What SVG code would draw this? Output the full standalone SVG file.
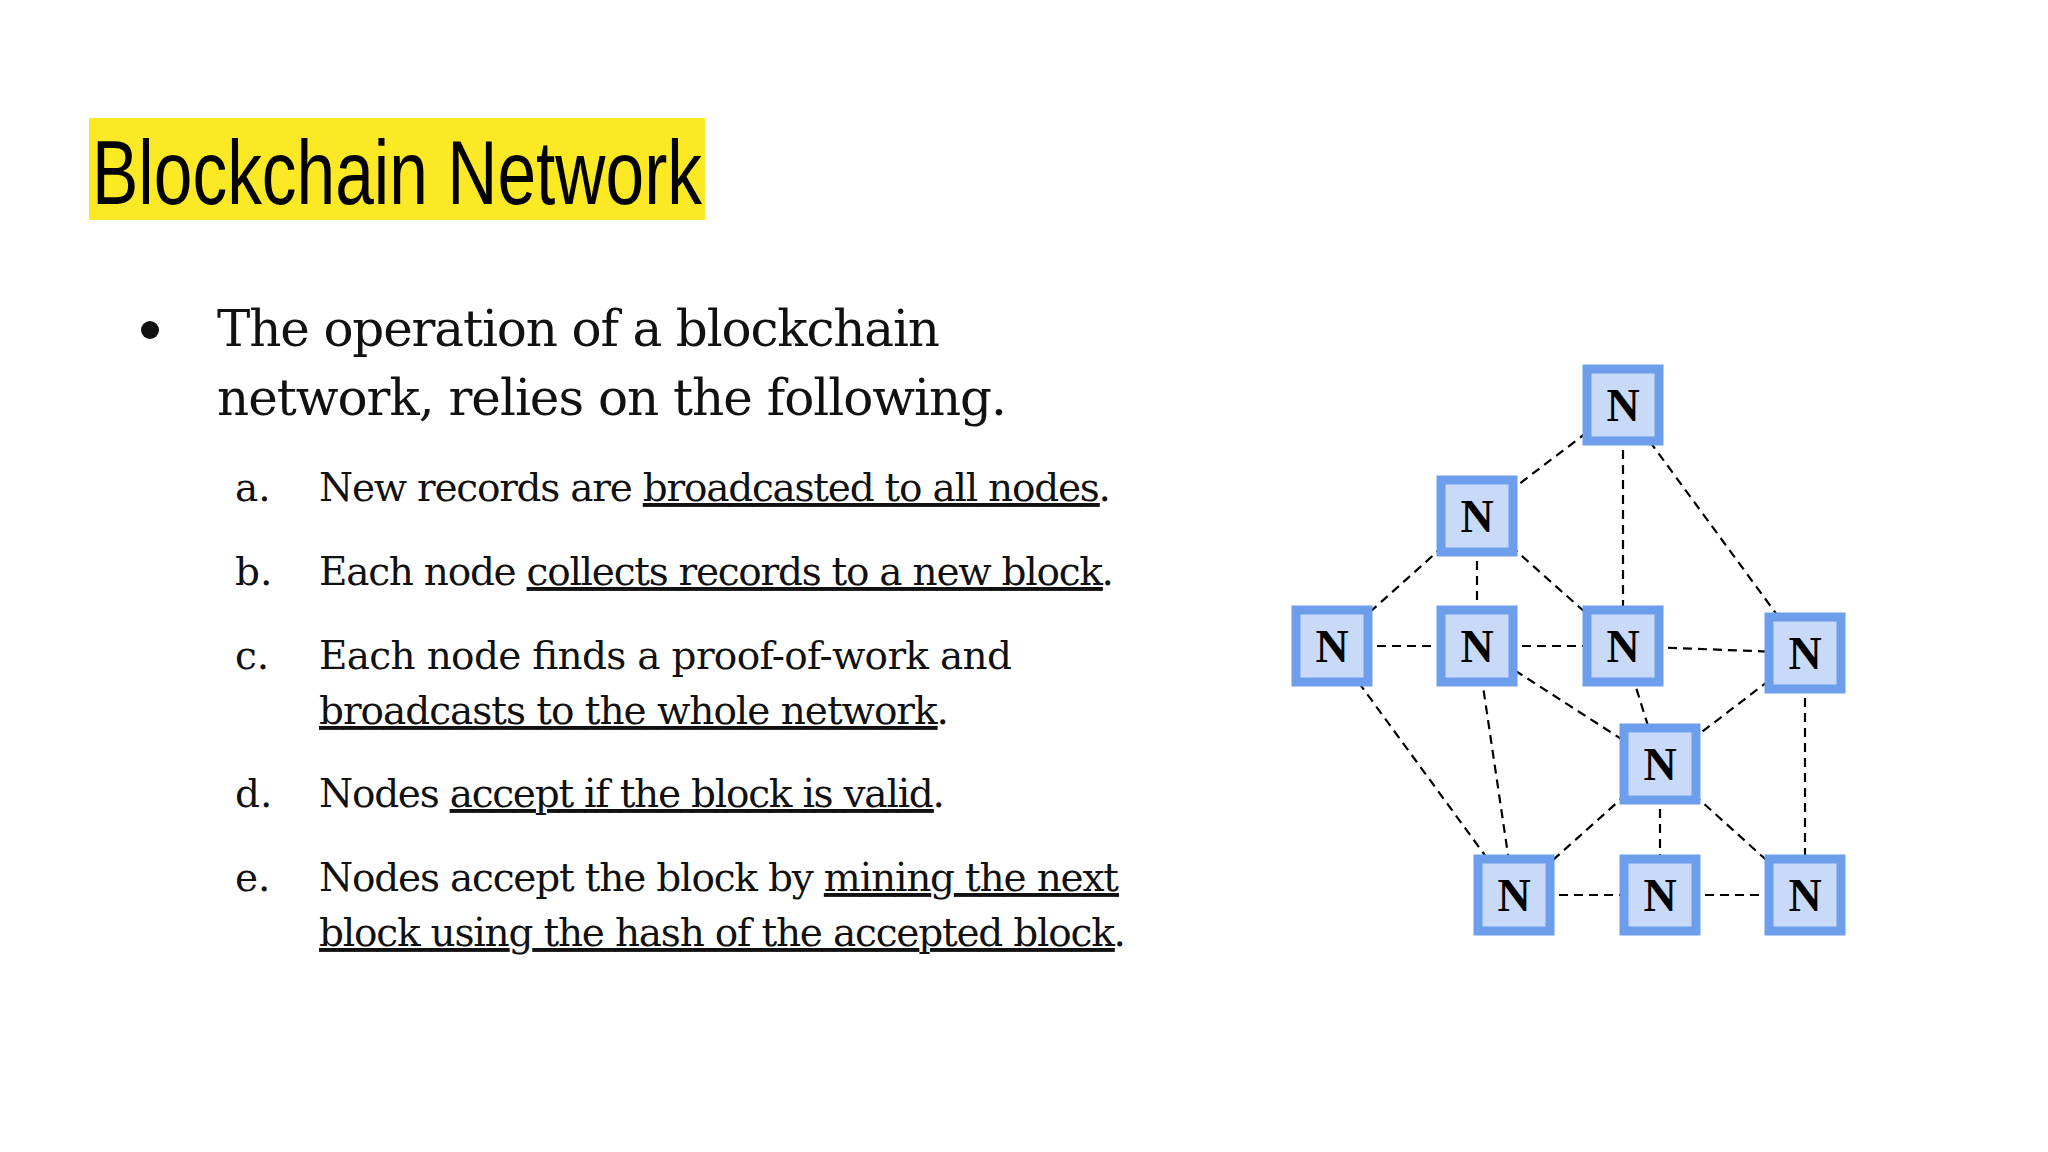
<svg xmlns="http://www.w3.org/2000/svg" width="2048" height="1152" viewBox="0 0 2048 1152">
<style>
.n rect{fill:#c9daf8;stroke:#6d9eeb;stroke-width:9}
.n text{font-family:"Liberation Serif","DejaVu Serif",serif;font-weight:bold;font-size:46px;text-anchor:middle;fill:#000}
#edges line{stroke:#000;stroke-width:2.2;stroke-dasharray:9 6}
.b{font-family:"DejaVu Serif","Liberation Serif",serif;fill:#111}
.u{text-decoration:underline}
</style>
<rect width="2048" height="1152" fill="#fff"/>
<g id="title"><rect x="89" y="118" width="616" height="102" fill="#fbe925"/>
<text x="92" y="204" font-family="Liberation Sans, sans-serif" font-size="90" font-stretch="condensed" textLength="610" lengthAdjust="spacingAndGlyphs" fill="#000">Blockchain Network</text></g>
<g id="body" class="b">
<circle cx="150" cy="330" r="9" fill="#111"/>
<text x="217" y="346" font-size="50" textLength="723">The operation of a blockchain</text>
<text x="217" y="415" font-size="50" textLength="790">network, relies on the following.</text>
<g font-size="39">
<text x="235" y="501">a.</text><text x="319" y="501" textLength="792">New records are <tspan class="u">broadcasted to all nodes</tspan>.</text>
<text x="235" y="585">b.</text><text x="319" y="585" textLength="795">Each node <tspan class="u">collects records to a new block</tspan>.</text>
<text x="235" y="669">c.</text><text x="319" y="669" textLength="693">Each node finds a proof-of-work and</text>
<text x="319" y="724" textLength="630"><tspan class="u">broadcasts to the whole network</tspan>.</text>
<text x="235" y="807">d.</text><text x="319" y="807" textLength="626">Nodes <tspan class="u">accept if the block is valid</tspan>.</text>
<text x="235" y="891">e.</text><text x="319" y="891" textLength="800">Nodes accept the block by <tspan class="u">mining the next</tspan></text>
<text x="319" y="946" textLength="807"><tspan class="u">block using the hash of the accepted block</tspan>.</text>
</g></g>
<g id="edges">
<line x1="1623" y1="405" x2="1477" y2="516"/>
<line x1="1623" y1="405" x2="1623" y2="646"/>
<line x1="1623" y1="405" x2="1805" y2="653"/>
<line x1="1477" y1="516" x2="1332" y2="646"/>
<line x1="1477" y1="516" x2="1477" y2="646"/>
<line x1="1477" y1="516" x2="1623" y2="646"/>
<line x1="1332" y1="646" x2="1477" y2="646"/>
<line x1="1477" y1="646" x2="1623" y2="646"/>
<line x1="1623" y1="646" x2="1805" y2="653"/>
<line x1="1623" y1="646" x2="1660" y2="764"/>
<line x1="1805" y1="653" x2="1660" y2="764"/>
<line x1="1477" y1="646" x2="1660" y2="764"/>
<line x1="1477" y1="646" x2="1514" y2="895"/>
<line x1="1332" y1="646" x2="1514" y2="895"/>
<line x1="1660" y1="764" x2="1514" y2="895"/>
<line x1="1660" y1="764" x2="1660" y2="895"/>
<line x1="1660" y1="764" x2="1805" y2="895"/>
<line x1="1805" y1="653" x2="1805" y2="895"/>
<line x1="1514" y1="895" x2="1660" y2="895"/>
<line x1="1660" y1="895" x2="1805" y2="895"/>
</g>
<g id="n1" class="n"><rect x="1587" y="369" width="72" height="72"/><text x="1623" y="421">N</text></g>
<g id="n2" class="n"><rect x="1441" y="480" width="72" height="72"/><text x="1477" y="532">N</text></g>
<g id="n3" class="n"><rect x="1296" y="610" width="72" height="72"/><text x="1332" y="662">N</text></g>
<g id="n4" class="n"><rect x="1441" y="610" width="72" height="72"/><text x="1477" y="662">N</text></g>
<g id="n5" class="n"><rect x="1587" y="610" width="72" height="72"/><text x="1623" y="662">N</text></g>
<g id="n6" class="n"><rect x="1769" y="617" width="72" height="72"/><text x="1805" y="669">N</text></g>
<g id="n7" class="n"><rect x="1624" y="728" width="72" height="72"/><text x="1660" y="780">N</text></g>
<g id="n8" class="n"><rect x="1478" y="859" width="72" height="72"/><text x="1514" y="911">N</text></g>
<g id="n9" class="n"><rect x="1624" y="859" width="72" height="72"/><text x="1660" y="911">N</text></g>
<g id="n10" class="n"><rect x="1769" y="859" width="72" height="72"/><text x="1805" y="911">N</text></g>
</svg>
